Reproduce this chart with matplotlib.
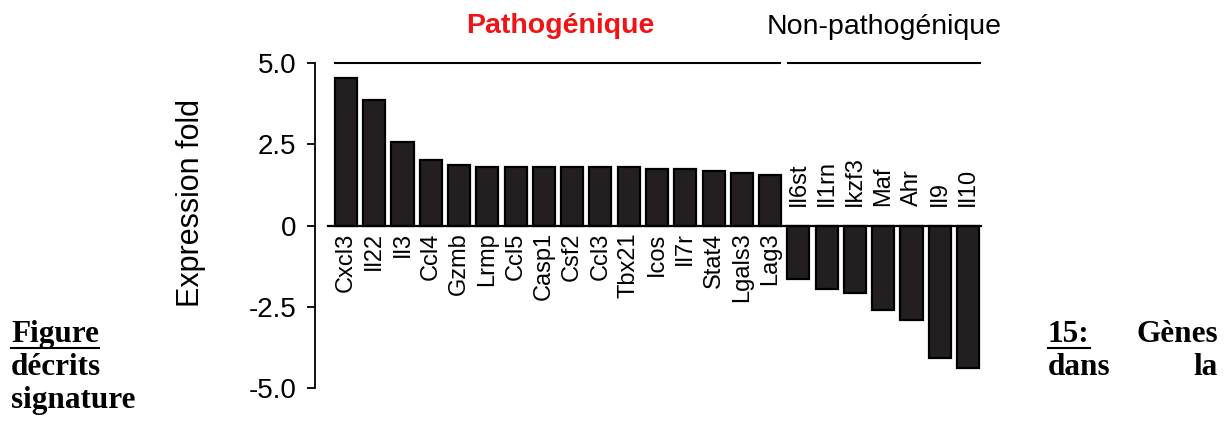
import numpy as np
import matplotlib
matplotlib.use("Agg")
import matplotlib.pyplot as plt
from matplotlib.lines import Line2D

# data
genes_patho = ["Cxcl3", "Il22", "Il3", "Ccl4", "Gzmb", "Lrmp", "Ccl5", "Casp1",
               "Csf2", "Ccl3", "Tbx21", "Icos", "Il7r", "Stat4", "Lgals3", "Lag3"]
fold_patho = [4.56, 3.88, 2.59, 2.01, 1.88, 1.81, 1.81, 1.81,
              1.82, 1.82, 1.82, 1.75, 1.75, 1.67, 1.62, 1.55]
genes_nonpatho = ["Il6st", "Il1rn", "Ikzf3", "Maf", "Ahr", "Il9", "Il10"]
fold_nonpatho = [-1.63, -1.95, -2.07, -2.58, -2.91, -4.07, -4.38]
yticks = [5.0, 2.5, 0, -2.5, -5.0]
ytick_labels = ["5.0", "2.5", "0", "-2.5", "-5.0"]

W, H = 1230, 423
fig = plt.figure(figsize=(W / 100, H / 100), dpi=100)
ax = fig.add_axes([315 / W, 1 - 398 / H, 670 / W, 344.5 / H])

genes = genes_patho + genes_nonpatho
values = fold_patho + fold_nonpatho
x = np.arange(len(genes))
n_pos = len(genes_patho)

ax.bar(x, values, width=0.78, color="#231f20", edgecolor="black", linewidth=1.6, zorder=2)
ax.plot([-0.64, len(genes) - 0.53], [0, 0], color="black", lw=1.6, zorder=3)

ax.set_xlim(-1.095, len(genes) - 0.4)
ax.set_ylim(-5.3, 5.3)

for s in ["top", "right", "bottom"]:
    ax.spines[s].set_visible(False)
ax.spines["left"].set_bounds(-5.0, 5.0)
ax.spines["left"].set_linewidth(1.3)
ax.set_xticks([])
ax.set_yticks(yticks)
ax.set_yticklabels(ytick_labels, fontsize=20, family="Liberation Sans")
ax.tick_params(axis="y", direction="out", length=6, width=1.3, pad=7.5)

ax.set_ylabel("Expression fold", fontsize=22, family="Liberation Sans")
ax.yaxis.set_label_coords(-0.162, 0.565)

# gene names
for i, g in enumerate(genes):
    if i < n_pos:
        ax.text(i, -0.2, g, rotation=90, ha="center", va="top",
                fontsize=17, family="Liberation Sans")
    else:
        ax.text(i, 0.6, g, rotation=90, ha="center", va="bottom",
                fontsize=17, family="Liberation Sans")

# group brackets
ax.plot([-0.39, 15.34], [5.0, 5.0], color="black", lw=1.5, clip_on=False)
ax.plot([15.65, 22.44], [5.0, 5.0], color="black", lw=1.5, clip_on=False)
fig.text(560 / W, 1 - 33 / H, "Pathogénique", color="#f01414", fontsize=20.5,
         fontweight="bold", family="Liberation Sans", ha="center", va="baseline")
fig.text(884 / W, 1 - 34 / H, "Non-pathogénique", color="black", fontsize=20.5,
         family="Liberation Sans", ha="center", va="baseline")

# caption split around the chart
cap = dict(fontsize=22.5, fontweight="bold", family="Liberation Serif", va="baseline")
t_fig = fig.text(11 / W, 1 - 341.7 / H, "Figure", ha="left", **cap)
fig.text(11 / W, 1 - 375 / H, "décrits", ha="left", **cap)
fig.text(11 / W, 1 - 408 / H, "signature", ha="left", **cap)
t_15 = fig.text(1048 / W, 1 - 341.7 / H, "15:", ha="left", **cap)
fig.text(1218 / W, 1 - 341.7 / H, "Gènes", ha="right", **cap)
fig.text(1048 / W, 1 - 375 / H, "dans", ha="left", **cap)
fig.text(1218 / W, 1 - 375 / H, "la", ha="right", **cap)

fig.canvas.draw()
r = fig.canvas.get_renderer()
for t in (t_fig, t_15):
    bb = t.get_window_extent(r)
    y_ul = (H - 348) / H
    fig.add_artist(Line2D([bb.x0 / W, bb.x1 / W], [y_ul, y_ul], color="black", lw=1.5))

fig.savefig("out.png", dpi=100, facecolor="white")
